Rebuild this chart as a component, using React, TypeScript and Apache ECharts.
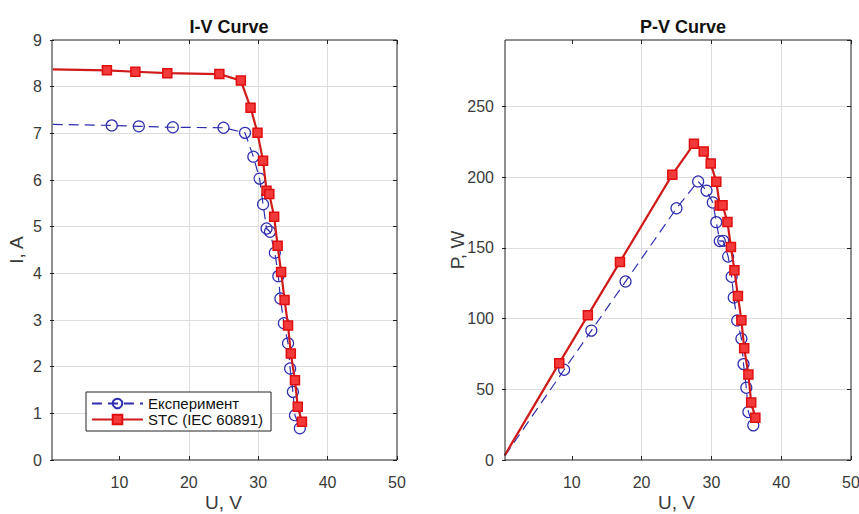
import React, { useEffect, useRef } from "react";
import * as echarts from "echarts";

// ---- data ----
const uStc = [0.4, 8.2, 12.3, 16.9, 24.4, 27.5, 28.9, 29.9, 30.7, 31.2, 31.6, 32.3, 32.8, 33.3, 33.8, 34.3, 34.7, 35.3, 35.7, 36.3];
const iStc = [8.37, 8.35, 8.32, 8.29, 8.27, 8.13, 7.55, 7.01, 6.41, 5.77, 5.7, 5.21, 4.59, 4.03, 3.43, 2.88, 2.28, 1.71, 1.14, 0.82];
const pStc = [3.4, 68.5, 102.3, 140.1, 201.8, 223.6, 218.2, 209.6, 196.8, 180.0, 180.1, 168.3, 150.6, 134.2, 115.9, 98.8, 79.1, 60.4, 40.7, 29.8];

const uExp = [0.4, 8.9, 12.8, 17.7, 25.0, 28.1, 29.3, 30.2, 30.7, 31.2, 31.7, 32.4, 32.9, 33.2, 33.7, 34.3, 34.6, 35.0, 35.3, 36.0];
const iExp = [7.19, 7.17, 7.15, 7.13, 7.12, 7.01, 6.5, 6.03, 5.48, 4.96, 4.89, 4.44, 3.94, 3.46, 2.93, 2.5, 1.96, 1.46, 0.96, 0.68];
const pExp = [2.9, 63.8, 91.5, 126.2, 178.0, 197.0, 190.5, 182.1, 168.2, 154.8, 155.0, 143.9, 129.6, 114.9, 98.7, 85.8, 67.8, 51.1, 33.9, 24.5];

const xTicks = [10, 20, 30, 40, 50];
const nameExp = "Експеримент";
const nameStc = "STC (IEC 60891)";
const titles = ["I-V Curve", "P-V Curve"];
const xName = "U, V";
const yNames = ["I, A", "P, W"];

const FONT = "Liberation Sans, Arial, Helvetica, sans-serif";
const RED_LINE = "#d01a1a";
const RED_FILL = "#f23a3a";
const RED_EDGE = "#e00f0f";
const BLUE = "#2e2eb0";
const GRID_C = "#dedede";
const TXT = "#3a3a3a";

function pts(us: number[], vs: number[]) {
  return us.map((u, k) => (k === 0 ? { value: [u, vs[k]], symbol: "none" } : [u, vs[k]]));
}

export default function App() {
  const ref = useRef<HTMLDivElement>(null);
  useEffect(() => {
    if (!ref.current) return;
    const chart = echarts.init(ref.current, null, { renderer: "svg" });

    const xBase = (gi: number) => ({
      type: "value",
      gridIndex: gi,
      min: 0,
      max: 50,
      interval: 10,
      position: "bottom",
      name: xName,
      nameLocation: "middle",
      nameGap: 33,
      nameMoveOverlap: false,
      nameTextStyle: { fontFamily: FONT, fontSize: 19, color: TXT },
      axisLine: { show: false, onZero: false },
      axisTick: { show: true, inside: true, length: 4, lineStyle: { color: "#222" }, customValues: xTicks },
      axisLabel: { color: TXT, fontFamily: FONT, fontSize: 16, margin: 14, showMinLabel: false },
      splitLine: { show: true, showMinLine: false, showMaxLine: false, lineStyle: { color: GRID_C, width: 1 } },
    });
    const xTop = (gi: number) => ({
      type: "value",
      gridIndex: gi,
      min: 0,
      max: 50,
      interval: 10,
      position: "top",
      axisLine: { show: false, onZero: false },
      axisTick: { show: true, inside: true, length: 4, lineStyle: { color: "#222" }, customValues: xTicks },
      axisLabel: { show: false },
      splitLine: { show: false },
    });
    const yBase = (gi: number, max: number, interval: number, gap: number) => ({
      type: "value",
      gridIndex: gi,
      min: 0,
      max,
      interval,
      position: "left",
      name: yNames[gi],
      nameLocation: "middle",
      nameGap: gap,
      nameMoveOverlap: false,
      nameRotate: 90,
      nameTextStyle: { fontFamily: FONT, fontSize: 19, color: TXT },
      axisLine: { show: false, onZero: false },
      axisTick: { show: true, inside: true, length: 4, lineStyle: { color: "#222" } },
      axisLabel: { color: TXT, fontFamily: FONT, fontSize: 16, margin: 8, showMaxLabel: gi === 0 },
      splitLine: { show: true, showMinLine: false, showMaxLine: false, lineStyle: { color: GRID_C, width: 1 } },
    });
    const yRight = (gi: number, max: number, interval: number) => ({
      type: "value",
      gridIndex: gi,
      min: 0,
      max,
      interval,
      position: "right",
      axisLine: { show: false, onZero: false },
      axisTick: { show: true, inside: true, length: 4, lineStyle: { color: "#222" } },
      axisLabel: { show: false },
      splitLine: { show: false },
    });

    const expSeries = (xi: number, yi: number, data: any[]) => ({
      type: "line",
      name: nameExp,
      xAxisIndex: xi,
      yAxisIndex: yi,
      data,
      symbol: "circle",
      symbolSize: 11,
      showAllSymbol: true,
      lineStyle: { color: BLUE, width: 1.2, type: [10, 6] },
      itemStyle: { color: "rgba(255,255,255,0)", borderColor: BLUE, borderWidth: 1.2 },
      z: 2,
    });
    const stcSeries = (xi: number, yi: number, data: any[]) => ({
      type: "line",
      name: nameStc,
      xAxisIndex: xi,
      yAxisIndex: yi,
      data,
      symbol: "rect",
      symbolSize: 9,
      showAllSymbol: true,
      lineStyle: { color: RED_LINE, width: 2.2 },
      itemStyle: { color: RED_FILL, borderColor: RED_EDGE, borderWidth: 1.5 },
      z: 3,
    });

    chart.setOption({
      animation: false,
      backgroundColor: "#ffffff",
      title: [
        { text: titles[0], left: 224, top: 13, textAlign: "center", textStyle: { fontFamily: FONT, fontSize: 18, fontWeight: "bold", color: "#111" } },
        { text: titles[1], left: 678, top: 13, textAlign: "center", textStyle: { fontFamily: FONT, fontSize: 18, fontWeight: "bold", color: "#111" } },
      ],
      grid: [
        { left: 50, top: 40, width: 347, height: 420, containLabel: false, outerBoundsMode: "none" },
        { left: 502, top: 40, width: 349, height: 420, containLabel: false, outerBoundsMode: "none" },
      ],
      xAxis: [xBase(0), xBase(1), xTop(0), xTop(1)],
      yAxis: [yBase(0, 9, 1, 24), yBase(1, 297, 50, 35), yRight(0, 9, 1), yRight(1, 297, 50)],
      legend: {
        data: [nameExp, nameStc],
        orient: "vertical",
        left: 86,
        top: 392,
        padding: [4, 8, 4, 5],
        itemGap: 1,
        itemWidth: 51,
        itemHeight: 12,
        backgroundColor: "#ffffff",
        borderColor: "#222",
        borderWidth: 1,
        borderRadius: 0,
        selectedMode: false,
        textStyle: { fontFamily: FONT, fontSize: 15, color: "#111", lineHeight: 13 },
      },
      graphic: [
        { type: "rect", z: 100, shape: { x: 52, y: 40, width: 345, height: 420 }, style: { fill: "none", stroke: "#1f1f1f", lineWidth: 1 } },
        { type: "rect", z: 100, shape: { x: 505, y: 40, width: 346, height: 420 }, style: { fill: "none", stroke: "#1f1f1f", lineWidth: 1 } },
      ],
      series: [
        expSeries(0, 0, pts(uExp, iExp)),
        stcSeries(0, 0, pts(uStc, iStc)),
        expSeries(1, 1, pts(uExp, pExp)),
        stcSeries(1, 1, pts(uStc, pStc)),
      ],
    });
    return () => chart.dispose();
  }, []);
  return <div ref={ref} style={{ position: "fixed", left: 0, top: 0, width: 859, height: 514, background: "#fff" }} />;
}
